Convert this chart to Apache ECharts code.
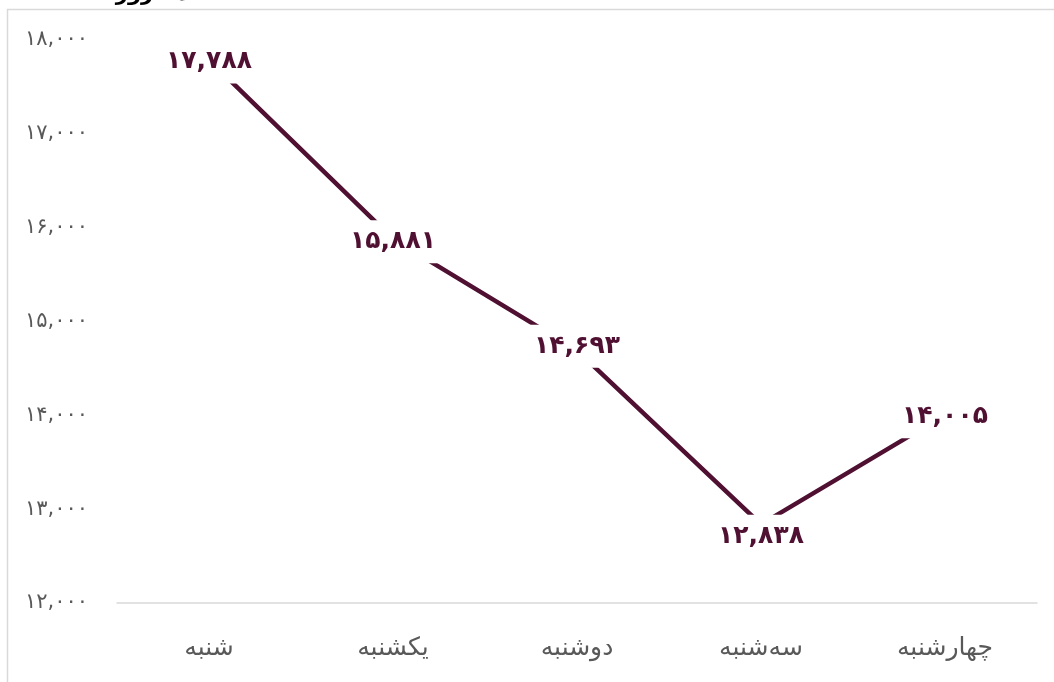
<!DOCTYPE html>
<html>
<head>
<meta charset="utf-8">
<script src="https://cdn.jsdelivr.net/npm/echarts@6/dist/echarts.min.js"></script>
<style>
html,body{margin:0;padding:0;background:#fff;}
#c{width:1054px;height:682px;}
</style>
</head>
<body>
<div id="c"></div>
<script>
const categories = ['شنبه', 'یکشنبه', 'دوشنبه', 'سه‌شنبه', 'چهارشنبه'];
const values = [17788, 15881, 14693, 12838, 14005];
const yTicks = [12000, 13000, 14000, 15000, 16000, 17000, 18000];
const titleText = 'تعداد روزانه';

function fa(n) {
  const s = Number(n).toLocaleString('en-US');
  return s.replace(/[0-9]/g, d => '۰۱۲۳۴۵۶۷۸۹'[+d]);
}

const color = '#4f1032';
const labelOffsets = [[0, 2], [0, 3], [0, -4], [0, 12], [0, 2]];
const chart = echarts.init(document.getElementById('c'));
chart.setOption({
  animation: false,
  backgroundColor: '#fff',
  graphic: [
    { type: 'rect', shape: { x: 7.5, y: 9.5, width: 1200, height: 800 },
      style: { fill: 'none', stroke: '#d9d9d9', lineWidth: 1.5 }, z: -1 },
    { type: 'text', left: 88, top: -16,
      style: { text: titleText, font: 'bold 21px "DejaVu Sans"', fill: '#000' } }
  ],
  grid: { left: 117, right: 17, top: 40, bottom: 79 },
  xAxis: {
    type: 'category',
    data: categories,
    boundaryGap: true,
    axisLine: { show: true, lineStyle: { color: '#d9d9d9', width: 1.5 } },
    axisTick: { show: false },
    axisLabel: { color: '#595959', fontSize: 25, margin: 33, fontFamily: '"DejaVu Sans"' }
  },
  yAxis: {
    type: 'value',
    min: yTicks[0],
    max: yTicks[yTicks.length - 1],
    interval: 1000,
    axisLine: { show: false },
    axisTick: { show: false },
    splitLine: { show: false },
    axisLabel: { color: '#595959', fontSize: 21, margin: 29, fontFamily: '"DejaVu Sans"',
      formatter: v => fa(v) }
  },
  series: [{
    type: 'line',
    data: values.map((v, i) => ({ value: v, label: { offset: labelOffsets[i] } })),
    symbol: 'circle',
    symbolSize: 1,
    showSymbol: true,
    itemStyle: { color: 'rgba(0,0,0,0)' },
    lineStyle: { color: color, width: 4.5 },
    z: 2,
    label: {
      show: true,
      position: 'inside',
      formatter: p => fa(p.value),
      color: color,
      fontSize: 25,
      fontWeight: 'bold',
      fontFamily: '"DejaVu Sans"',
      backgroundColor: '#fff',
      padding: [9, 8, 9, 8]
    }
  }]
});
</script>
</body>
</html>
